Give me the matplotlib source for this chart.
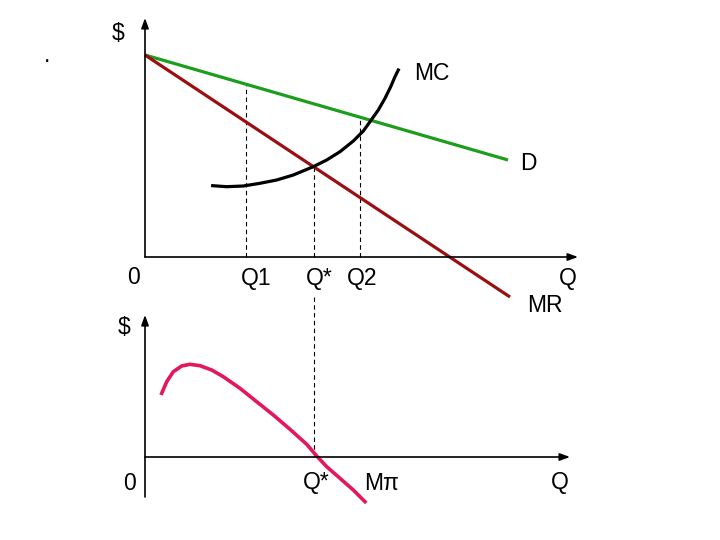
import matplotlib
matplotlib.use("Agg")
import matplotlib.pyplot as plt

plt.rcParams['font.family'] = ['Liberation Sans', 'DejaVu Sans']

# ---------------- data (top panel: units relative to origin) ----------------
d_q = [0, 363]
d_p = [202, 97]
mr_q = [0, 365]
mr_p = [202, -40]
mc_q = [67.7, 81.7, 98.3, 115, 131.7, 148.3, 168.3, 181.7, 195, 208.3, 218.3,
        225, 233.3, 240, 245.7, 250, 253.3]
mc_p = [71.3, 70.3, 71, 73.7, 77, 82, 90.3, 97, 105.3, 116, 126,
        135.3, 147, 158.7, 170.3, 180.3, 187]
q_marks = [101, 169, 215]          # Q1, Q*, Q2
q_mark_tops = [173, 90, 140]
q_labels = ["Q1", "Q*", "Q2"]
q_label_x = [111, 174, 217]

# ---------------- data (bottom panel) ----------------
mpi_q = [16.7, 21.7, 28.3, 36.7, 45, 55, 66.7, 78.3, 95, 111.7, 128.3, 145,
         161.7, 171.7, 181.7, 195, 208.3, 220]
mpi_p = [63.7, 75.3, 85.3, 91, 92.7, 91.3, 87, 80.3, 68.7, 55.3, 42, 27.7,
         12.7, 1, -9.7, -21.3, -33, -44.7]

W, H = 720, 540
fig = plt.figure(figsize=(7.2, 5.4), dpi=100)

FS = 16.5
GREEN = '#1c9e1c'
DARKRED = '#9a1010'
PINK = '#e2175f'

# ---------- top panel ----------
ax = fig.add_axes([145 / W, (H - 257) / H, 433 / W, 239 / H])
ax.set_xlim(0, 433)
ax.set_ylim(0, 239)
ax.axis('off')

arrow = dict(arrowstyle='-|>,head_length=0.6,head_width=0.22', color='black', lw=1.2,
             shrinkA=0, shrinkB=0)
ax.annotate('', xy=(0, 239), xytext=(0, 0), arrowprops=arrow, annotation_clip=False)
ax.annotate('', xy=(433, 0), xytext=(0, 0), arrowprops=arrow, annotation_clip=False)

for qx, top in zip(q_marks, q_mark_tops):
    ax.plot([qx, qx], [0, top], ls=(0, (4, 3)), color='black', lw=0.8, clip_on=False)

ax.plot(d_q, d_p, color=GREEN, lw=2.3, clip_on=False, solid_capstyle='butt')
ax.plot(mr_q, mr_p, color=DARKRED, lw=2.3, clip_on=False, solid_capstyle='butt')
ax.plot(mc_q, mc_p, color='black', lw=2.3, clip_on=False, solid_joinstyle='round')

ax.text(-27, 223, "$", fontsize=FS, ha='center', va='center')
ax.text(-98, 202, ".", fontsize=FS, ha='center', va='center')
ax.text(287, 184, "MC", fontsize=FS, ha='center', va='center')
ax.text(383, 94, "D", fontsize=FS, ha='center', va='center')
ax.text(-11, -21, "0", fontsize=FS, ha='center', va='center')
for lab, lx in zip(q_labels, q_label_x):
    ax.text(lx, -21, lab, fontsize=FS, ha='center', va='center')
ax.text(423, -21, "Q", fontsize=FS, ha='center', va='center')
ax.text(400, -49, "MR", fontsize=FS, ha='center', va='center')

# ---------- bottom panel ----------
bx = fig.add_axes([145 / W, (H - 457) / H, 425 / W, 142 / H])
bx.set_xlim(0, 425)
bx.set_ylim(0, 142)
bx.axis('off')

bx.annotate('', xy=(0, 142), xytext=(0, -40), arrowprops=arrow, annotation_clip=False)
bx.annotate('', xy=(425, 0), xytext=(0, 0), arrowprops=arrow, annotation_clip=False)

bx.plot([169, 169], [0, 162], ls=(0, (4, 3)), color='black', lw=0.8, clip_on=False)
bx.plot(mpi_q, mpi_p, color=PINK, lw=2.6, clip_on=False, solid_joinstyle='round')

bx.text(-21, 129, "$", fontsize=FS, ha='center', va='center')
bx.text(-16, -26, "0", fontsize=FS, ha='center', va='center')
bx.text(171, -26, "Q*", fontsize=FS, ha='center', va='center')
bx.text(237, -26, "M\u03c0", fontsize=FS, ha='center', va='center')
bx.text(415, -26, "Q", fontsize=FS, ha='center', va='center')

fig.savefig("out.png", dpi=100)
